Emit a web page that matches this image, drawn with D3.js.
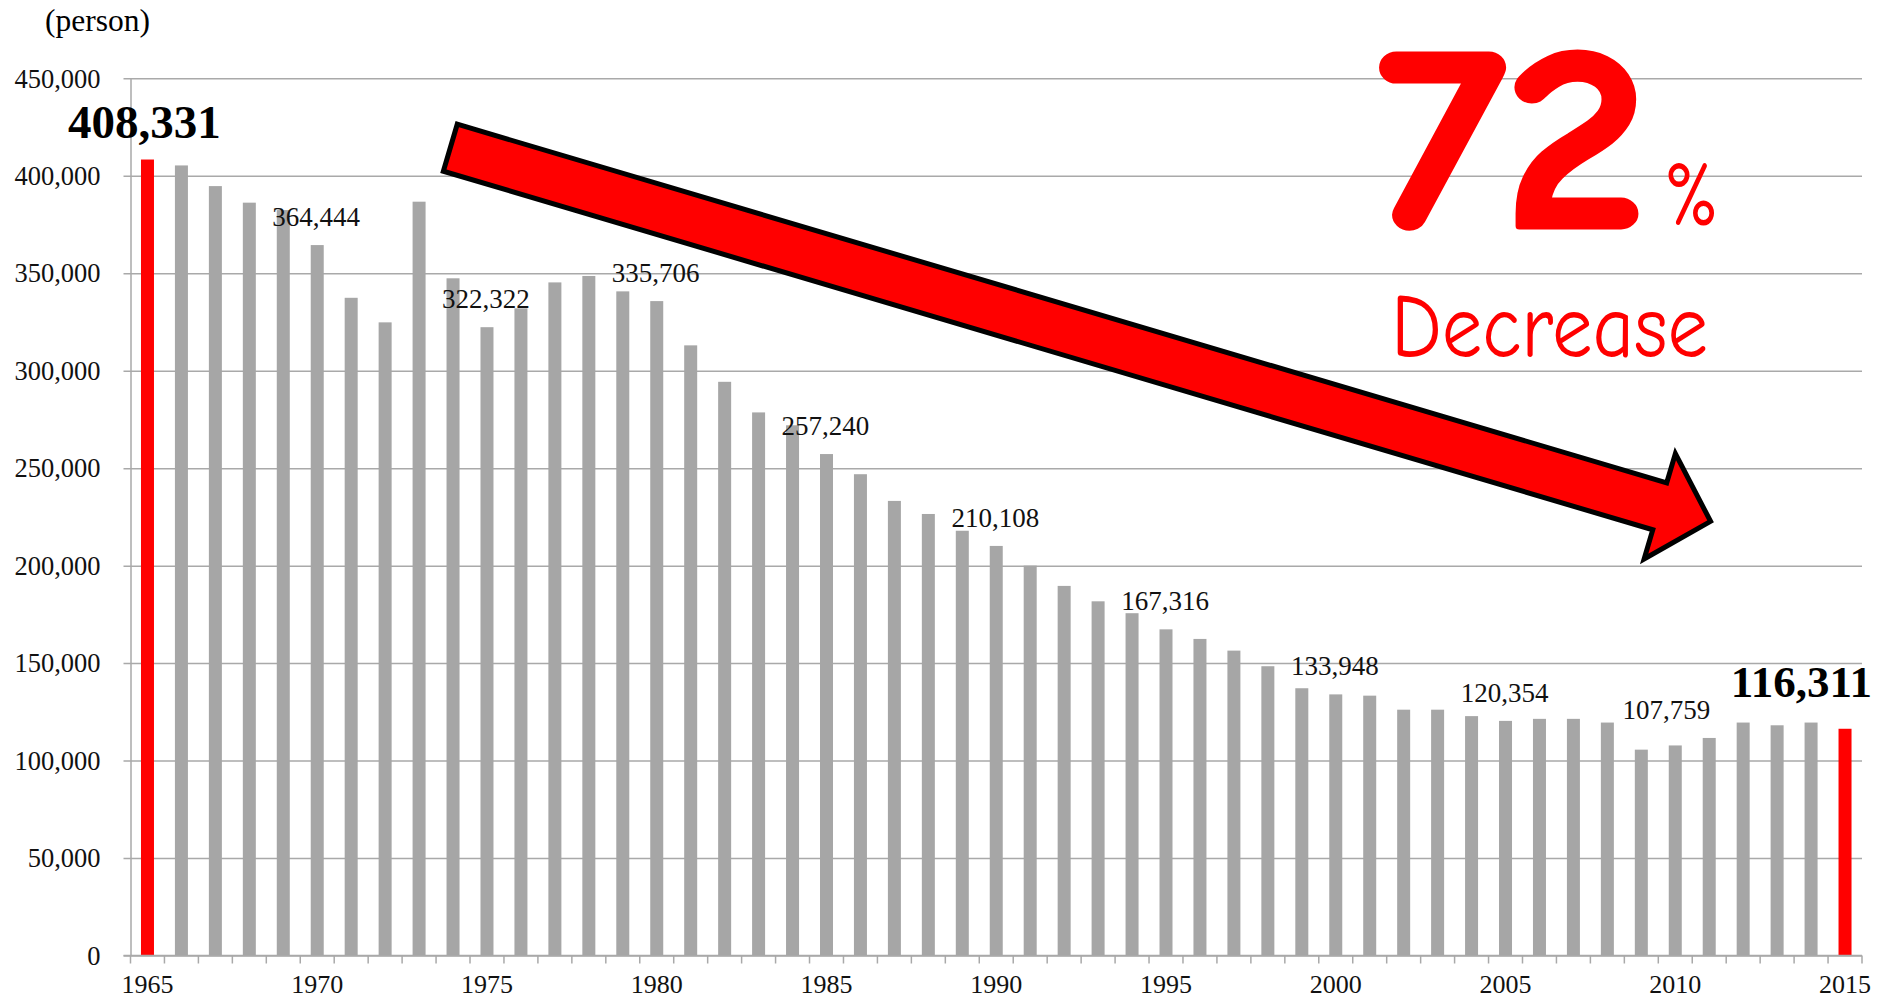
<!DOCTYPE html>
<html>
<head>
<meta charset="utf-8">
<script src="https://cdn.jsdelivr.net/npm/d3@7"></script>
<style>
  html, body { margin: 0; padding: 0; background: #ffffff; }
  svg { display: block; }
</style>
</head>
<body>
<div id="chart"></div>
<script>
// ---------------- data ----------------
const years = [1965,1966,1967,1968,1969,1970,1971,1972,1973,1974,1975,1976,1977,1978,1979,1980,
  1981,1982,1983,1984,1985,1986,1987,1988,1989,1990,1991,1992,1993,1994,1995,1996,1997,1998,1999,
  2000,2001,2002,2003,2004,2005,2006,2007,2008,2009,2010,2011,2012,2013,2014,2015];
const persons = [408331,405300,394700,386200,382400,364444,337400,324800,386700,347400,322322,332000,
  345300,348600,340700,335706,313000,294300,278600,272000,257240,246900,233200,226500,217900,210108,
  200000,189600,181700,175600,167316,162400,156400,148400,137100,133948,133300,126100,126100,122800,
  120354,121400,121400,119500,105600,107759,111600,119500,118100,119500,116311];
const highlightYears = [1965, 2015];
const labelYears = [1970, 1975, 1980, 1985, 1990, 1995, 2000, 2005, 2010];
const xTickYears = [1965, 1970, 1975, 1980, 1985, 1990, 1995, 2000, 2005, 2010, 2015];
const yTicks = [0, 50000, 100000, 150000, 200000, 250000, 300000, 350000, 400000, 450000];
const unitLabel = "(person)";
const bigNumber = "72";
const bigPercent = "%";
const bigWord = "Decrease";

// ---------------- layout ----------------
const W = 1886, H = 1000;
const plotLeft = 130.5, plotRight = 1862, plotTop = 78.3, plotBottom = 955.5;
const serif = "'Liberation Serif', 'Times New Roman', serif";
const gridColor = "#a9a9a9";
const barGray = "#a6a6a6";
const red = "#ff0000";

const data = years.map((yr, i) => ({ year: yr, value: persons[i] }));

const svg = d3.select("#chart").append("svg")
  .attr("width", W).attr("height", H)
  .attr("viewBox", `0 0 ${W} ${H}`);
svg.append("rect").attr("width", W).attr("height", H).attr("fill", "#fff");

const x = d3.scaleBand().domain(years).range([plotLeft, plotRight]).paddingInner(0).paddingOuter(0);
const y = d3.scaleLinear().domain([0, 450000]).range([plotBottom, plotTop]);
const fmt = d3.format(",");

// unit label
svg.append("text").attr("x", 45).attr("y", 31)
  .attr("font-family", serif).attr("font-size", 31.5).attr("fill", "#000")
  .text(unitLabel);

// y axis + grid
const yAxis = svg.append("g").attr("transform", `translate(${plotLeft},0)`)
  .call(d3.axisLeft(y).tickValues(yTicks).tickFormat(fmt).tickSizeInner(7).tickSizeOuter(0).tickPadding(23));
yAxis.select(".domain").attr("stroke", gridColor).attr("stroke-width", 1.5);
yAxis.selectAll(".tick line").attr("stroke", gridColor).attr("stroke-width", 1.5)
  .attr("x1", -7).attr("x2", plotRight - plotLeft);
yAxis.selectAll(".tick text").attr("font-family", serif).attr("font-size", 26.5).attr("fill", "#111")
  .attr("dy", "0.33em");

// x axis
const xAxis = svg.append("g").attr("transform", `translate(0,${plotBottom})`)
  .call(d3.axisBottom(x).tickValues(xTickYears).tickSize(0).tickPadding(19));
xAxis.select(".domain").remove();
xAxis.selectAll(".tick text").attr("font-family", serif).attr("font-size", 26).attr("fill", "#111")
  .attr("dy", "0.71em");
// boundary ticks
const bounds = years.map(yr => x(yr)).concat([x(years[years.length - 1]) + x.bandwidth()]);
svg.append("g").selectAll("line").data(bounds).join("line")
  .attr("x1", d => d).attr("x2", d => d)
  .attr("y1", plotBottom).attr("y2", plotBottom + 8)
  .attr("stroke", gridColor).attr("stroke-width", 1.5);

// bars
const bw = 13;
svg.append("g").selectAll("rect").data(data).join("rect")
  .attr("x", d => x(d.year) + x.bandwidth() / 2 - bw / 2)
  .attr("width", bw)
  .attr("y", d => y(d.value))
  .attr("height", d => y(0) - y(d.value))
  .attr("fill", d => highlightYears.includes(d.year) ? red : barGray);

// redraw base line on top
svg.append("line").attr("x1", plotLeft - 7).attr("x2", plotRight).attr("y1", plotBottom).attr("y2", plotBottom)
  .attr("stroke", gridColor).attr("stroke-width", 1.5);

// value labels
svg.append("g").selectAll("text").data(data.filter(d => labelYears.includes(d.year))).join("text")
  .attr("x", d => x(d.year) + x.bandwidth() / 2 + (d.year === 2010 ? -9 : -1))
  .attr("y", d => y(d.value) - (d.year === 2010 ? 26 : 19))
  .attr("text-anchor", "middle")
  .attr("font-family", serif).attr("font-size", 27).attr("fill", "#111")
  .text(d => fmt(d.value));

// highlighted labels
const first = data[0], last = data[data.length - 1];
svg.append("text")
  .attr("x", x(first.year) + x.bandwidth() / 2 - 3).attr("y", y(first.value) - 22)
  .attr("text-anchor", "middle").attr("font-family", serif).attr("font-weight", "bold")
  .attr("font-size", 47).attr("fill", "#000").text(fmt(first.value));
svg.append("text")
  .attr("x", plotRight + 10).attr("y", y(last.value) - 32)
  .attr("text-anchor", "end").attr("font-family", serif).attr("font-weight", "bold")
  .attr("font-size", 45).attr("fill", "#000").text(fmt(last.value));

// big arrow (annotation)
const ox = 447.9, oy = 147, ang = Math.atan2(0.2965, 1);
const L = 1317, hw = 24.5, HW = 55, hb = 1264;
const local = [[2.5, -hw], [hb, -hw], [hb, -HW], [L, 0], [hb, HW], [hb, hw], [2.5, hw]];
const pts = local.map(([a, b]) => [
  ox + a * Math.cos(ang) - b * Math.sin(ang),
  oy + a * Math.sin(ang) + b * Math.cos(ang)
]);
svg.append("path")
  .attr("d", d3.line()(pts) + "Z")
  .attr("fill", red).attr("stroke", "#000").attr("stroke-width", 5)
  .attr("stroke-linejoin", "miter");

// 72% Decrease
const comic = "'Comic Sans MS', 'Comic Neue', 'DejaVu Sans', sans-serif";
svg.append("text").attr("x", 1378).attr("y", 226)
  .attr("font-family", comic).attr("font-weight", "bold").attr("font-size", 262)
  .attr("textLength", 268).attr("lengthAdjust", "spacingAndGlyphs")
  .attr("fill", red).attr("stroke", red).attr("stroke-width", 7).attr("stroke-linejoin", "round")
  .text(bigNumber);
svg.append("text").attr("x", 1664).attr("y", 225)
  .attr("font-family", comic).attr("font-size", 90)
  .attr("textLength", 55).attr("lengthAdjust", "spacingAndGlyphs")
  .attr("fill", red).text(bigPercent);
svg.append("text").attr("x", 1391).attr("y", 357)
  .attr("font-family", comic).attr("font-size", 92)
  .attr("textLength", 317).attr("lengthAdjust", "spacingAndGlyphs")
  .attr("fill", red).text(bigWord);
</script>
</body>
</html>
